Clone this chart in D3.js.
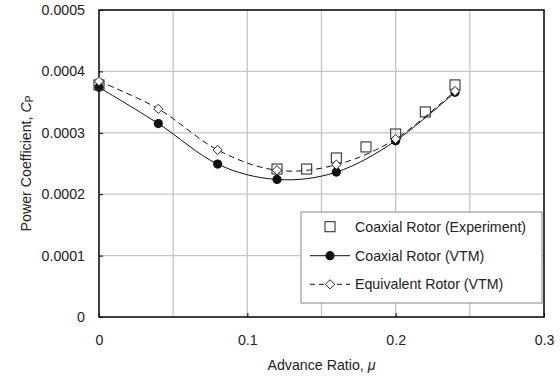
<!DOCTYPE html>
<html>
<head>
<meta charset="utf-8">
<script src="https://cdn.jsdelivr.net/npm/d3@7/dist/d3.min.js"></script>
<style>
  html, body { margin: 0; padding: 0; background: #fff; }
  svg { display: block; font-family: "Liberation Sans", Arial, sans-serif; }
</style>
</head>
<body>
<svg id="chart" width="560" height="380"></svg>
<script>
// Power coefficient vs advance ratio
const xTicks = [0, 0.1, 0.2, 0.3];
const xTickLabels = ["0", "0.1", "0.2", "0.3"];
const xGrid = [0.05, 0.1, 0.15, 0.2, 0.25];
const yTicks = [0, 0.0001, 0.0002, 0.0003, 0.0004, 0.0005];
const yTickLabels = ["0", "0.0001", "0.0002", "0.0003", "0.0004", "0.0005"];

const expMu = [0, 0.12, 0.14, 0.16, 0.18, 0.20, 0.22, 0.24];
const expCp = [0.000378, 0.000241, 0.000241, 0.000259, 0.000277, 0.000298, 0.000334, 0.000378];

const vtmMu = [0, 0.04, 0.08, 0.12, 0.16, 0.20, 0.24];
const vtmCp = [0.000374, 0.000315, 0.000249, 0.000224, 0.000236, 0.000287, 0.000366];

const eqMu = [0, 0.04, 0.08, 0.12, 0.16, 0.20, 0.24];
const eqCp = [0.000384, 0.000339, 0.000272, 0.000239, 0.000248, 0.000290, 0.000368];

const legendLabels = ["Coaxial Rotor (Experiment)", "Coaxial Rotor (VTM)", "Equivalent Rotor (VTM)"];

const FS = 14.2;
const svg = d3.select("#chart");
const m = { left: 99, right: 544, top: 10, bottom: 317 };

const x = d3.scaleLinear().domain([0, 0.3]).range([m.left, m.right]);
const y = d3.scaleLinear().domain([0, 0.0005]).range([m.bottom, m.top]);

// grid
const grid = svg.append("g").attr("stroke", "#c6c6c6").attr("stroke-width", 1.3);
xGrid.forEach(v => grid.append("line")
  .attr("x1", x(v)).attr("x2", x(v)).attr("y1", m.top).attr("y2", m.bottom));
yTicks.slice(1, -1).forEach(v => grid.append("line")
  .attr("x1", m.left).attr("x2", m.right).attr("y1", y(v)).attr("y2", y(v)));

// axes (inner ticks)
const xAxis = svg.append("g").attr("transform", `translate(0,${m.bottom})`)
  .call(d3.axisBottom(x).tickValues(xTicks).tickSize(-4).tickPadding(18)
    .tickFormat((d, i) => xTickLabels[i]));
const yAxis = svg.append("g").attr("transform", `translate(${m.left},0)`)
  .call(d3.axisLeft(y).tickValues(yTicks).tickSize(-4).tickPadding(14)
    .tickFormat((d, i) => yTickLabels[i]));
[xAxis, yAxis].forEach(a => {
  a.select(".domain").remove();
  a.selectAll("line").attr("stroke", "#000").attr("stroke-width", 1);
  a.selectAll("text").attr("font-size", FS).attr("fill", "#222")
    .attr("font-family", "Liberation Sans, Arial, sans-serif");
});

// frame
svg.append("rect").attr("x", m.left).attr("y", m.top)
  .attr("width", m.right - m.left).attr("height", m.bottom - m.top)
  .attr("fill", "none").attr("stroke", "#111").attr("stroke-width", 1.6);

// axis titles
svg.append("text").attr("x", (m.left + m.right) / 2).attr("y", 370)
  .attr("text-anchor", "middle").attr("font-size", FS).attr("fill", "#222")
  .text("Advance Ratio, ")
  .append("tspan").attr("font-style", "italic").text("μ");

const yt = svg.append("text").attr("transform", `translate(31,${(m.top + m.bottom) / 2}) rotate(-90)`)
  .attr("text-anchor", "middle").attr("font-size", FS).attr("fill", "#222");
yt.append("tspan").text("Power Coefficient, ");
yt.append("tspan").attr("font-style", "italic").text("C");
yt.append("tspan").attr("font-size", 10).attr("dy", 2).text("P");

// curves
const curve = d3.curveCardinal.tension(0);
const vtm = vtmMu.map((d, i) => [d, vtmCp[i]]);
const eq = eqMu.map((d, i) => [d, eqCp[i]]);
const exp = expMu.map((d, i) => [d, expCp[i]]);
const line = d3.line().x(d => x(d[0])).y(d => y(d[1])).curve(curve);

const plot = svg.append("g");
plot.append("path").attr("d", line(eq)).attr("fill", "none")
  .attr("stroke", "#111").attr("stroke-width", 1).attr("stroke-dasharray", "6,4");
plot.append("path").attr("d", line(vtm)).attr("fill", "none")
  .attr("stroke", "#111").attr("stroke-width", 1);

// markers
const sq = 10;
function square(g, cx, cy) {
  g.append("rect").attr("x", cx - sq / 2).attr("y", cy - sq / 2)
    .attr("width", sq).attr("height", sq)
    .attr("fill", "none").attr("stroke", "#333").attr("stroke-width", 1.1);
}
function dot(g, cx, cy) {
  g.append("circle").attr("cx", cx).attr("cy", cy).attr("r", 4.6).attr("fill", "#111");
}
function diamond(g, cx, cy) {
  const r = 4.6;
  g.append("path").attr("d", `M${cx},${cy - r}L${cx + r},${cy}L${cx},${cy + r}L${cx - r},${cy}Z`)
    .attr("fill", "#fff").attr("stroke", "#222").attr("stroke-width", 1);
}
vtm.forEach(d => dot(plot, x(d[0]), y(d[1])));
exp.forEach(d => square(plot, x(d[0]), y(d[1])));
eq.forEach(d => diamond(plot, x(d[0]), y(d[1])));

// legend
const lg = svg.append("g");
lg.append("rect").attr("x", 301).attr("y", 212).attr("width", 241).attr("height", 91)
  .attr("fill", "#fff").attr("stroke", "#888").attr("stroke-width", 1);
const rows = [226.7, 255.7, 284.3];
const lx0 = 310, lx1 = 350, lcx = 330, tx = 355;
square(lg, lcx, rows[0]);
lg.append("line").attr("x1", lx0).attr("x2", lx1).attr("y1", rows[1]).attr("y2", rows[1])
  .attr("stroke", "#111").attr("stroke-width", 1);
dot(lg, lcx, rows[1]);
lg.append("line").attr("x1", lx0).attr("x2", lx1).attr("y1", rows[2]).attr("y2", rows[2])
  .attr("stroke", "#111").attr("stroke-width", 1).attr("stroke-dasharray", "5,4");
diamond(lg, lcx, rows[2]);
legendLabels.forEach((t, i) => lg.append("text").attr("x", tx).attr("y", rows[i] + 5)
  .attr("font-size", FS).attr("fill", "#222").text(t));
</script>
</body>
</html>
